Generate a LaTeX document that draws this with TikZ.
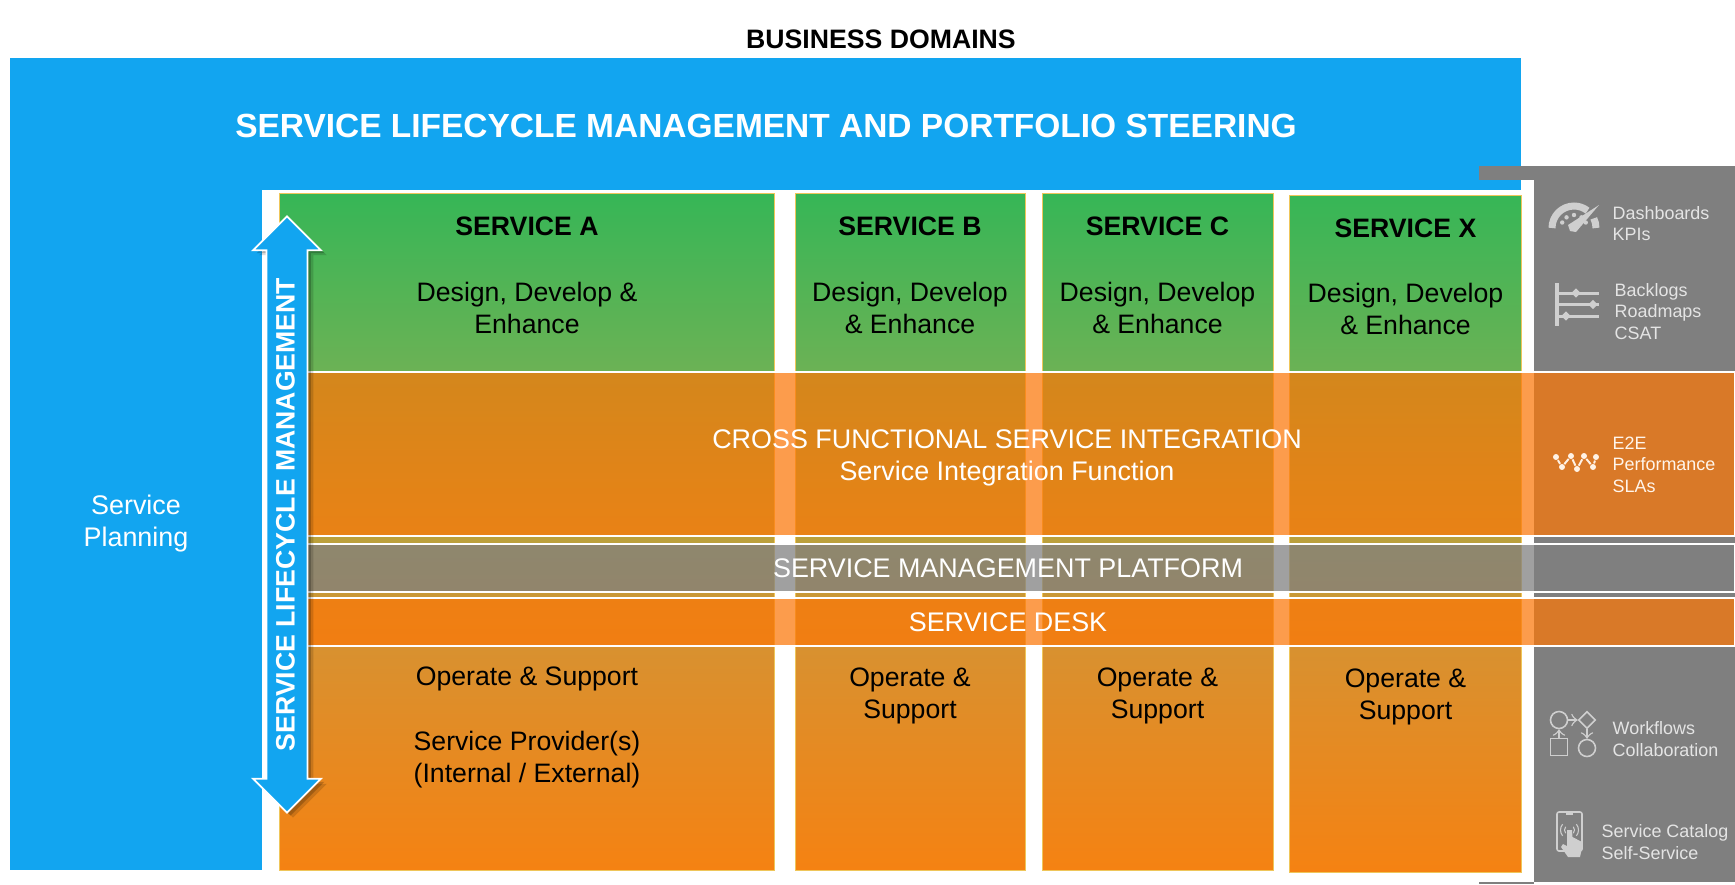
\documentclass[tikz,border=0pt]{standalone}
\usepackage{fontspec}
\setmainfont{Liberation Sans}
\usepackage{xcolor}
\usetikzlibrary{shapes.arrows,shapes.geometric,shadows}
\definecolor{skyblue}{HTML}{12A5F0}
\definecolor{panelgray}{HTML}{7F7F7F}
\definecolor{overlayorange}{HTML}{FC7707}
\definecolor{icongray}{HTML}{CFCFCF}
\definecolor{panelink}{HTML}{E4E4E4}
\definecolor{rimyellow}{HTML}{EFC65A}
\definecolor{gradbottom}{HTML}{F58212}
\definecolor{gradlow}{HTML}{D89130}
\definecolor{gradmid}{HTML}{BBA03C}
\definecolor{gradhigh}{HTML}{6BB255}
\definecolor{gradtop}{HTML}{36B656}
\pgfdeclareverticalshading{colgrad}{100bp}{
  color(0bp)=(gradbottom); color(25bp)=(gradbottom);
  color(41.5bp)=(gradlow);
  color(49.4bp)=(gradmid);
  color(62bp)=(gradhigh);
  color(75bp)=(gradtop); color(100bp)=(gradtop)}

\begin{document}
\begin{tikzpicture}[x=0.01cm,y=-0.01cm,
    label/.style={font=\fontsize{7.58}{9.1}\selectfont,align=center},
    labelbold/.style={label,font=\fontsize{7.58}{9.1}\selectfont\bfseries},
    labelwhite/.style={label,text=white,font=\fontsize{7.65}{9.1}\selectfont},
    sidetext/.style={font=\fontsize{5.1}{6.1}\selectfont,align=left,anchor=west,text=panelink,inner sep=0pt},
    column/.style={shading=colgrad,draw=rimyellow,line width=0.22pt},
    band/.style={fill=overlayorange,fill opacity=0.72,draw=white,line width=0.35pt},
    icon/.style={draw=icongray,line width=0.45pt,inner sep=0pt},
    dot/.style={circle,fill=#1,inner sep=0pt,minimum size=0.06cm},
    dot/.default=icongray]
    \useasboundingbox (0,0) rectangle (1735,884);
    \fill[white] (0,0) rectangle (1735,884);

    % Blue frame
    \fill[skyblue] (10,58) rectangle (1521,190);
    \fill[skyblue] (10,190) rectangle (262,870);
    \node[labelbold] (domains) at (881,39) {BUSINESS DOMAINS};
    \node[font=\fontsize{9.52}{11}\selectfont\bfseries,text=white] (steering) at (766,125.5) {SERVICE LIFECYCLE MANAGEMENT AND PORTFOLIO STEERING};
    \node[labelwhite] (planning) at (136,523.5) {Service\\Planning};

    % Gray panel
    \fill[panelgray] (1534,166) rectangle (1735,882);
    \fill[panelgray] (1479,166) rectangle (1534,180);
    \fill[panelgray] (1479,882) rectangle (1534,884);

    % Service columns
    \path[column] (279,193) rectangle (774.5,870);
    \path[column] (795,193) rectangle (1025.5,870);
    \path[column] (1042,193) rectangle (1273.5,870);
    \path[column] (1289.5,195) rectangle (1521,872);

    % Horizontal bands
    \draw[band] (279,372) rectangle (1735,536);
    \draw[band,fill=panelgray,fill opacity=0.74] (279,544) rectangle (1735,592);
    \draw[band] (279,598) rectangle (1735,646);

    \node[labelwhite] (integration) at (1007,457.5) {CROSS FUNCTIONAL SERVICE INTEGRATION\\Service Integration Function};
    \node[labelwhite] (platform) at (1008,568.5) {SERVICE MANAGEMENT PLATFORM};
    \node[labelwhite] (desk) at (1008,622.5) {SERVICE DESK};

    % Column texts
    \node[labelbold] (servicea) at (527,226) {SERVICE A};
    \node[labelbold] (serviceb) at (910,226) {SERVICE B};
    \node[labelbold] (servicec) at (1157.5,226) {SERVICE C};
    \node[labelbold] (servicex) at (1405.5,228) {SERVICE X};
    \node[label] (designa) at (527,308) {Design, Develop \&\\Enhance};
    \node[label] (designb) at (910,308) {Design, Develop\\\& Enhance};
    \node[label] (designc) at (1157.5,308) {Design, Develop\\\& Enhance};
    \node[label] (designx) at (1405.5,309) {Design, Develop\\\& Enhance};
    \node[label] (operatea) at (527,679) {Operate \& Support};
    \node[label] (providers) at (527,760) {Service Provider(s)\\(Internal / External)};
    \node[label] (operateb) at (910,695.5) {Operate \&\\Support};
    \node[label] (operatec) at (1157.5,695.5) {Operate \&\\Support};
    \node[label] (operatex) at (1405.5,696.5) {Operate \&\\Support};

    % Lifecycle arrow
    \node[double arrow,rotate=90,fill=skyblue,draw=white,line width=0.5pt,text=white,
        font=\fontsize{7.58}{9}\selectfont\bfseries,inner sep=0pt,
        minimum height=5.96cm,minimum width=0.66cm,text height=0.27cm,text depth=0.12cm,
        double arrow head extend=0.135cm,double arrow head indent=0cm,
        drop shadow={shadow xshift=0.06cm,shadow yshift=-0.05cm,opacity=0.14,fill=black},
        drop shadow={shadow xshift=0.035cm,shadow yshift=-0.03cm,opacity=0.2,fill=black}]
        (lifecycle) at (287,514.5) {SERVICE LIFECYCLE MANAGEMENT};

    % Side texts
    \node[sidetext] (dashboards) at (1612,223.5) {Dashboards\\KPIs};
    \node[sidetext] (backlogs) at (1614,311.5) {Backlogs\\Roadmaps\\CSAT};
    \node[sidetext,text=white!92!orange] (performance) at (1612,464.5) {E2E\\Performance\\SLAs};
    \node[sidetext] (workflows) at (1612,739) {Workflows\\Collaboration};
    \node[sidetext] (catalog) at (1601,842) {Service Catalog\\Self-Service};

    % Gauge icon
    \begin{scope}[shift={(1574,228)},y=0.01cm]
        \draw[icongray,line width=0.07cm] (180:22) arc (180:52:22);
        \draw[icongray,line width=0.07cm] (26:22) arc (26:0:22);
        \foreach \ang in {155,125,90,55,25}
            \fill[icongray] (\ang:13) circle (2.2);
    \end{scope}
    \fill[icongray] (1599,205) -- (1576,232) -- (1570,231) -- (1568,225) -- cycle;

    % Backlog icon
    \draw[icongray,line width=0.035cm] (1557,283) -- (1557,326);
    \foreach \row/\mark in {293/1576,304.5/1593,316/1566} {
        \draw[icongray,line width=0.03cm] (1557,\row) -- (1599,\row);
        \node[diamond,fill=icongray,inner sep=0pt,minimum size=0.1cm] (tick\mark) at (\mark,\row) {};
    }

    % Performance icon
    \foreach \n/\pos in {1/{1556,457},2/{1562,467},3/{1571,456},4/{1577,469},5/{1584,456},6/{1593,467},7/{1596,457}}
        \node[dot=white!90!orange] (perf\n) at (\pos) {};
    \foreach \a/\b in {1/2,2/3,3/4,4/5,5/6,6/7}
        \draw[white!90!orange,line width=0.55pt] (perf\a) -- (perf\b);

    % Workflow icon
    \node[icon,circle,minimum size=0.17cm] (wfstart) at (1559,720) {};
    \node[icon,diamond,minimum size=0.17cm] (wfgate) at (1587,720) {};
    \node[icon,minimum size=0.17cm] (wfstep) at (1559,747) {};
    \node[icon,circle,minimum size=0.17cm] (wfend) at (1587,748) {};
    \draw[->,icongray,line width=0.4pt] (wfstart) -- (wfgate);
    \draw[->,icongray,line width=0.4pt] (wfstep) -- (wfstart);
    \draw[->,icongray,line width=0.4pt] (wfgate) -- (wfend);

    % Phone icon
    \draw[icongray,line width=0.45pt,rounded corners=0.02cm] (1557,812) rectangle (1582,851);
    \draw[icongray,line width=0.45pt] (1566,814) -- (1573,814);
    \fill[icongray] (1567,830) -- (1572,830) -- (1572.5,837) -- (1582,842) -- (1582,848) -- (1580,857)
        -- (1568,857) -- (1561,847) -- (1563,844) -- (1567,846) -- cycle;
    \begin{scope}[shift={(1569.5,830)},y=0.01cm]
        \foreach \rad in {5,9} {
            \draw[icongray,line width=0.3pt] (140:\rad) arc (140:220:\rad);
            \draw[icongray,line width=0.3pt] (40:\rad) arc (40:-40:\rad);
        }
    \end{scope}
\end{tikzpicture}
\end{document}
